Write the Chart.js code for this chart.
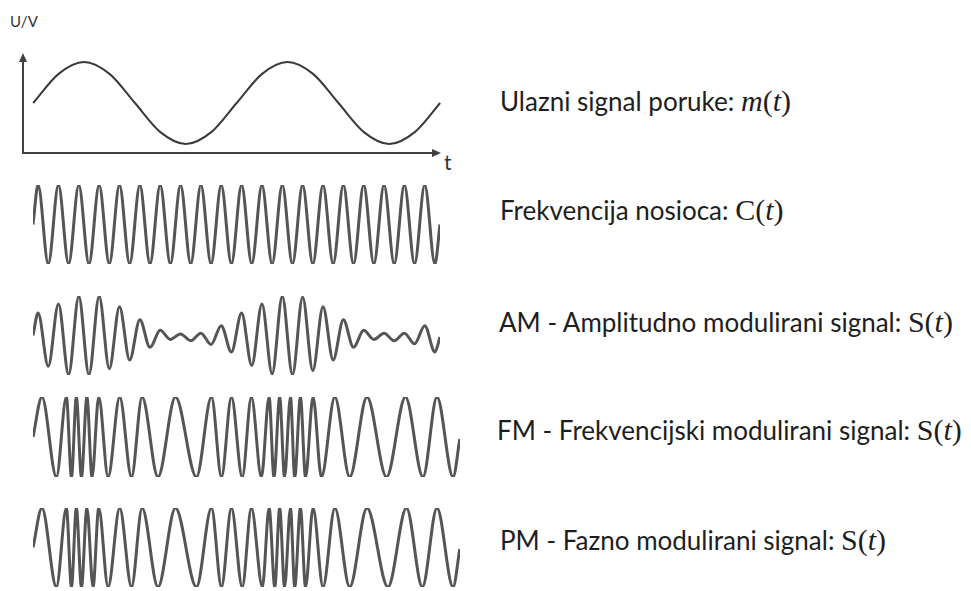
<!DOCTYPE html>
<html lang="hr">
<head>
<meta charset="UTF-8" />
<title>Modulacija signala</title>
<script src="https://cdn.jsdelivr.net/npm/chart.js"></script>
<style>
  body { margin: 0; background: #fff; }
  #wrap { position: relative; width: 971px; height: 591px; overflow: hidden;
          font-family: Lato, "Open Sans", sans-serif; color: #1e1e1e; }
  canvas { position: absolute; }
  .lbl { position: absolute; font-size: 26px; white-space: nowrap; line-height: 1; }
  .m { font-family: "Liberation Serif", serif; font-size: 30px; line-height: 0; }
</style>
</head>
<body>
<div id="wrap">
  <div class="lbl" style="left:10px;top:14px;font-size:15px;color:#333">U/V</div>
  <div class="lbl" style="left:444px;top:151px;font-size:21px;color:#333">t</div>

  <canvas id="msg"></canvas>
  <canvas id="car"></canvas>
  <canvas id="am"></canvas>
  <canvas id="fm"></canvas>
  <canvas id="pm"></canvas>

  <div class="lbl" style="left:500px;top:88px">Ulazni signal poruke: <span class="m"><i>m</i>(<i>t</i>)</span></div>
  <div class="lbl" style="left:500px;top:197px">Frekvencija nosioca: <span class="m">C(<i>t</i>)</span></div>
  <div class="lbl" style="left:499px;top:309px">AM - Amplitudno modulirani signal: <span class="m">S(<i>t</i>)</span></div>
  <div class="lbl" style="left:497px;top:417px">FM - Frekvencijski modulirani signal: <span class="m">S(<i>t</i>)</span></div>
  <div class="lbl" style="left:500px;top:527px">PM - Fazno modulirani signal: <span class="m">S(<i>t</i>)</span></div>
</div>

<script>
  // time in carrier periods, values relative to amplitude 1

  // m(t) - message, two slow periods
  const msgTimes  = [0, 1.25, 2.5, 3.75, 5, 6.25, 7.5, 8.75, 10, 11.25, 12.5, 13.75, 15, 16.25, 17.5, 18.75, 20];
  const msgValues = [0, 0.71, 1, 0.71, 0, -0.71, -1, -0.71, 0, 0.71, 1, 0.71, 0, -0.71, -1, -0.71, 0];

  // C(t) - carrier, 20 periods (peaks and troughs)
  const carTimes = [0, 0.25, 0.75, 1.25, 1.75, 2.25, 2.75, 3.25, 3.75, 4.25, 4.75, 5.25, 5.75, 6.25, 6.75,
    7.25, 7.75, 8.25, 8.75, 9.25, 9.75, 10.25, 10.75, 11.25, 11.75, 12.25, 12.75, 13.25, 13.75,
    14.25, 14.75, 15.25, 15.75, 16.25, 16.75, 17.25, 17.75, 18.25, 18.75, 19.25, 19.75, 20];
  const carValues = [0, 1, -1, 1, -1, 1, -1, 1, -1, 1, -1, 1, -1, 1, -1, 1, -1, 1, -1, 1, -1,
    1, -1, 1, -1, 1, -1, 1, -1, 1, -1, 1, -1, 1, -1, 1, -1, 1, -1, 1, -1, 0];

  // AM - same peak times as the carrier
  const amTimes = carTimes;
  const amValues = [0, 0.57, -0.78, 0.80, -0.99, 0.99, -0.99, 0.99, -0.84, 0.73, -0.62, 0.40, -0.30,
    0.13, -0.10, 0.04, -0.13, 0.06, -0.23, 0.25, -0.42, 0.57, -0.76, 0.80, -0.97, 0.99, -0.99,
    0.97, -0.89, 0.73, -0.62, 0.40, -0.30, 0.13, -0.10, 0.06, -0.13, 0.06, -0.21, 0.25, -0.42, -0.04];

  // FM
  const fmTimes = [0, 0.44, 1.15, 1.64, 1.89, 2.13, 2.38, 2.65, 2.90, 3.23, 3.69, 4.26, 4.84, 5.36,
    6.14, 7.00, 8.03, 8.77, 9.26, 9.75, 10.28, 10.73, 11.22, 11.60, 11.84, 12.12, 12.36, 12.65,
    12.86, 13.14, 13.39, 13.76, 14.17, 14.83, 15.56, 16.41, 17.37, 18.30, 19.16, 19.85, 20.64, 20.97];
  const fmValues = [0, 1, -1, 1, -1, 1, -1, 1, -1, 1, -1, 1, -1, 1, -1, 1, -1, 1, -1, 1, -1,
    1, -1, 1, -1, 1, -1, 1, -1, 1, -1, 1, -1, 1, -1, 1, -1, 1, -1, 1, -1, -0.05];

  // PM
  const pmTimes = [0, 0.44, 1.15, 1.64, 1.89, 2.13, 2.38, 2.65, 2.95, 3.23, 3.69, 4.26, 4.84, 5.36,
    6.14, 7.00, 8.03, 8.77, 9.26, 9.75, 10.28, 10.73, 11.27, 11.60, 11.88, 12.12, 12.36, 12.65,
    12.86, 13.14, 13.39, 13.76, 14.25, 14.83, 15.56, 16.41, 17.44, 18.35, 19.13, 19.85, 20.64, 20.97];
  const pmValues = [0, 1, -1, 1, -1, 1, -1, 1, -1, 1, -1, 1, -1, 1, -1, 1, -1, 1, -1, 1, -1,
    1, -1, 1, -1, 1, -1, 1, -1, 1, -1, 1, -1, 1, -1, 1, -1, 1, -1, 1, -1, -0.04];

  const PAD = 6;

  // axis lines with arrows for the first plot
  const axesPlugin = {
    id: 'axes',
    afterDraw(chart) {
      const a = chart.chartArea, c = chart.ctx;
      c.save();
      c.strokeStyle = '#404040';
      c.fillStyle = '#404040';
      c.lineWidth = 2;
      c.beginPath();
      c.moveTo(a.left, a.top + 6);
      c.lineTo(a.left, a.bottom);
      c.lineTo(a.right - 6, a.bottom);
      c.stroke();
      c.beginPath();
      c.moveTo(a.left, a.top);
      c.lineTo(a.left - 4, a.top + 9);
      c.lineTo(a.left + 4, a.top + 9);
      c.closePath();
      c.fill();
      c.beginPath();
      c.moveTo(a.right, a.bottom);
      c.lineTo(a.right - 9, a.bottom - 4);
      c.lineTo(a.right - 9, a.bottom + 4);
      c.closePath();
      c.fill();
      c.restore();
    }
  };

  function wave(id, times, values, box, color, width, withAxes) {
    const cv = document.getElementById(id);
    cv.width = box.w + 2 * PAD;
    cv.height = box.h + 2 * PAD;
    cv.style.left = (box.x - PAD) + 'px';
    cv.style.top = (box.y - PAD) + 'px';
    return new Chart(cv, {
      type: 'line',
      data: {
        datasets: [{
          data: times.map((t, i) => ({ x: t, y: values[i] })),
          borderColor: color,
          borderWidth: width,
          pointRadius: 0,
          cubicInterpolationMode: 'monotone',
          fill: false
        }]
      },
      options: {
        responsive: false,
        animation: false,
        layout: { padding: PAD },
        plugins: { legend: { display: false }, tooltip: { enabled: false } },
        scales: {
          x: { type: 'linear', display: false, min: box.t0, max: box.t1 },
          y: { display: false, min: -box.ymax, max: box.ymax }
        }
      },
      plugins: withAxes ? [axesPlugin] : []
    });
  }

  wave('msg', msgTimes, msgValues, { x: 23, y: 53, w: 418, h: 100, t0: -0.5, t1: 20.04, ymax: 1.22 }, '#3a3a3a', 2, true);
  wave('car', carTimes, carValues, { x: 33, y: 185, w: 407, h: 79, t0: 0, t1: 20, ymax: 1 }, '#555', 3);
  wave('am', amTimes, amValues, { x: 33, y: 296, w: 407, h: 79, t0: 0, t1: 20, ymax: 1 }, '#555', 3);
  wave('fm', fmTimes, fmValues, { x: 33, y: 397, w: 427, h: 80, t0: 0, t1: 20.98, ymax: 1 }, '#555', 3);
  wave('pm', pmTimes, pmValues, { x: 33, y: 508, w: 427, h: 79, t0: 0, t1: 20.98, ymax: 1 }, '#555', 3);
</script>
</body>
</html>
